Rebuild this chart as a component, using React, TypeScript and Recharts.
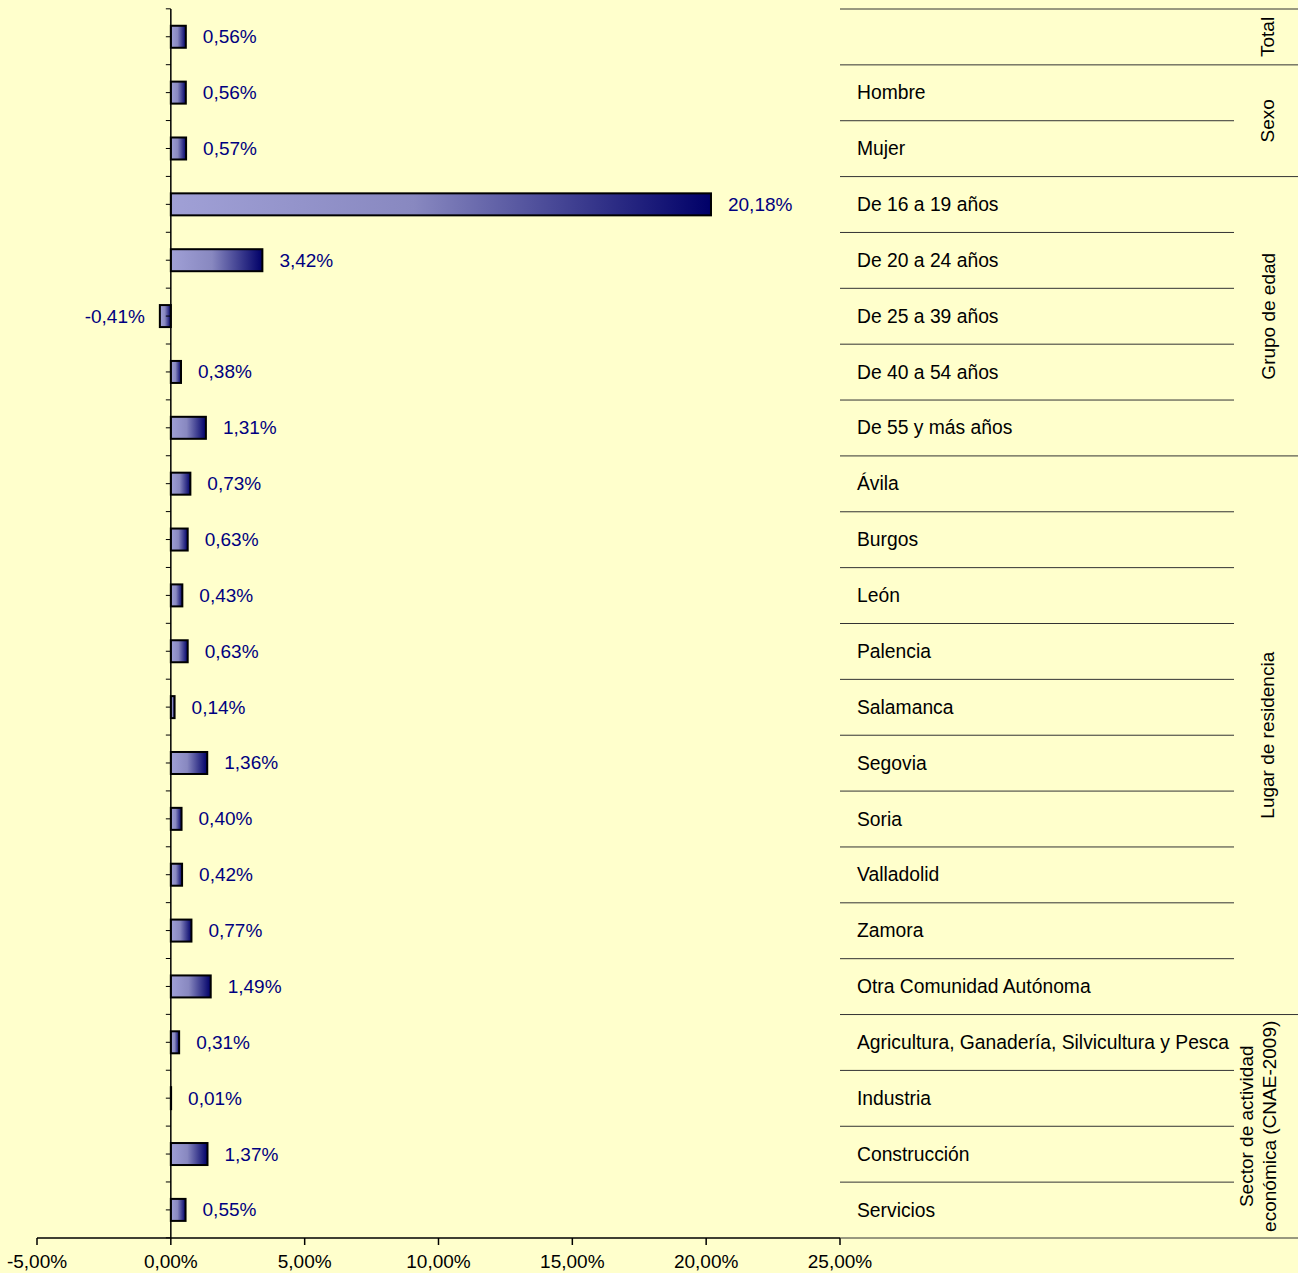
import { Bar, BarChart, LabelList, ReferenceLine, XAxis, YAxis } from "recharts";

const categories = [
  "",
  "Hombre",
  "Mujer",
  "De 16 a 19 años",
  "De 20 a 24 años",
  "De 25 a 39 años",
  "De 40 a 54 años",
  "De 55 y más años",
  "Ávila",
  "Burgos",
  "León",
  "Palencia",
  "Salamanca",
  "Segovia",
  "Soria",
  "Valladolid",
  "Zamora",
  "Otra Comunidad Autónoma",
  "Agricultura, Ganadería, Silvicultura y Pesca",
  "Industria",
  "Construcción",
  "Servicios",
];

const values = [
  0.56, 0.56, 0.57, 20.18, 3.42, -0.41, 0.38, 1.31, 0.73, 0.63, 0.43, 0.63,
  0.14, 1.36, 0.4, 0.42, 0.77, 1.49, 0.31, 0.01, 1.37, 0.55,
];

const groupLabels = [
  ["Total"],
  ["Sexo"],
  ["Grupo de edad"],
  ["Lugar de residencia"],
  ["Sector de actividad", "económica (CNAE-2009)"],
];
const groupSizes = [1, 2, 5, 10, 4];

const xTicks = [-5, 0, 5, 10, 15, 20, 25];

const data = categories.map((name, i) => ({ name, value: values[i] }));

const W = 1298;
const H = 1273;
const MARGIN = { top: 9, right: 0, bottom: 0, left: 37 };
const X_AXIS_H = 35;
const TABLE_W = 458;
const BAND = (H - MARGIN.top - MARGIN.bottom - X_AXIS_H) / categories.length;
const FONT = '"Liberation Sans", Arial, sans-serif';
const BG = "#FFFFCC";

const groupStarts = groupSizes.map((_, g) =>
  groupSizes.slice(0, g).reduce((a, b) => a + b, 0)
);

const pct = (v: number) => `${v.toFixed(2).replace(".", ",")}%`;

function CategoryTick(props: any) {
  const { x, y, payload } = props;
  const i: number = props.index ?? payload.index ?? categories.indexOf(payload.value);
  const left = x - 17;
  const top = y - BAND / 2;
  const g = groupStarts.indexOf(i);
  const last = i === categories.length - 1;
  return (
    <g>
      <line
        x1={left}
        x2={left + (g >= 0 ? TABLE_W : 394)}
        y1={top}
        y2={top}
        stroke="#333"
        strokeWidth={1}
      />
      {last && (
        <line x1={left} x2={left + TABLE_W} y1={y + BAND / 2} y2={y + BAND / 2} stroke="#333" />
      )}
      <text x={x} y={y} dominantBaseline="central" fontSize={19.3} fontFamily={FONT} fill="#000">
        {payload.value}
      </text>
      {g >= 0 &&
        groupLabels[g].map((line, k) => {
          const n = groupLabels[g].length;
          const cx = x + 411 - (n - 1) * 10 + (k - (n - 1) / 2) * 23;
          const cy = top + (groupSizes[g] * BAND) / 2;
          return (
            <text
              key={k}
              x={cx}
              y={cy}
              transform={`rotate(-90 ${cx} ${cy})`}
              textAnchor="middle"
              dominantBaseline="central"
              fontSize={19}
              fontFamily={FONT}
              fill="#000"
            >
              {line}
            </text>
          );
        })}
    </g>
  );
}

function GradientBar(props: any) {
  const { x, y, width, height, index } = props;
  const left = Math.min(x, x + width);
  const w = Math.abs(width);
  const cy = y + height / 2;
  const marks = [cy - BAND / 2, cy];
  if (index === categories.length - 1) marks.push(cy + BAND / 2);
  return (
    <g>
      <rect
        x={left}
        y={y}
        width={w}
        height={height}
        fill="url(#barGrad)"
        stroke="#000"
        strokeWidth={2}
      />
      {marks.map((m, k) => (
        <line key={k} x1={x - 5} x2={x} y1={m} y2={m} stroke="#000" strokeWidth={1} />
      ))}
    </g>
  );
}

function ValueLabel(props: any) {
  const { x, y, width, height, value } = props;
  const end = x + width;
  const neg = value < 0;
  return (
    <text
      x={neg ? end - 15 : end + 17}
      y={y + height / 2}
      textAnchor={neg ? "end" : "start"}
      dominantBaseline="central"
      fontSize={19}
      fontFamily={FONT}
      fill="#000080"
    >
      {pct(value)}
    </text>
  );
}

export default function App() {
  return (
    <div style={{ width: W, height: H, background: BG }}>
      <style>{`body{margin:0;background:${BG};}`}</style>
      <BarChart width={W} height={H} data={data} layout="vertical" margin={MARGIN} barCategoryGap="30%">
        <defs>
          <linearGradient id="barGrad" x1="0" y1="0" x2="1" y2="0">
            <stop offset="0%" stopColor="#A0A0D6" />
            <stop offset="45%" stopColor="#8888C0" />
            <stop offset="100%" stopColor="#000068" />
          </linearGradient>
        </defs>
        <XAxis
          type="number"
          domain={[-5, 25]}
          ticks={xTicks}
          interval={0}
          allowDataOverflow
          tickFormatter={pct}
          height={X_AXIS_H}
          tickSize={7}
          tickMargin={10}
          axisLine={{ stroke: "#000", strokeWidth: 1.5 }}
          tickLine={{ stroke: "#000", strokeWidth: 1.5 }}
          tick={{ fill: "#000", fontSize: 19, fontFamily: FONT }}
        />
        <YAxis
          type="category"
          dataKey="name"
          orientation="right"
          width={TABLE_W}
          axisLine={false}
          tickLine={false}
          tickSize={0}
          tickMargin={17}
          interval={0}
          tick={<CategoryTick />}
        />
        <ReferenceLine x={0} stroke="#000" strokeWidth={1.5} />
        <Bar dataKey="value" shape={<GradientBar />} isAnimationActive={false}>
          <LabelList dataKey="value" content={<ValueLabel />} />
        </Bar>
      </BarChart>
    </div>
  );
}
